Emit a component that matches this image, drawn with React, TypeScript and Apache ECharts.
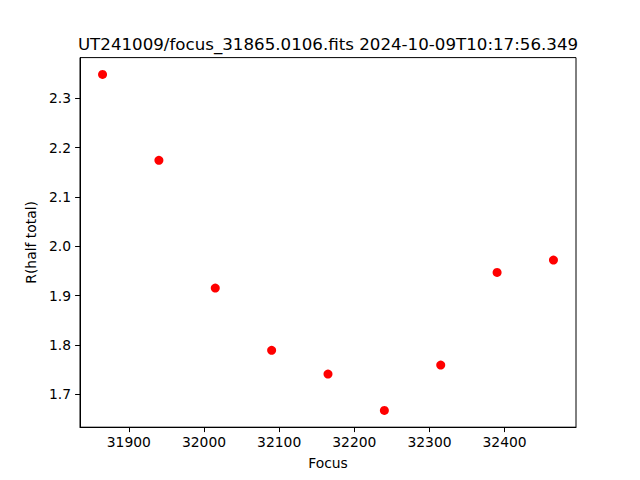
import React, { useEffect, useRef } from "react";
import * as echarts from "echarts";

const titleText = "UT241009/focus_31865.0106.fits 2024-10-09T10:17:56.349";
const focusValues = [31865, 31940, 32015, 32090, 32165, 32240, 32315, 32390, 32465];
const radiusValues = [2.3485, 2.1742, 1.9152, 1.7889, 1.7408, 1.6671, 1.759, 1.947, 1.972];
const xTicks = [31900, 32000, 32100, 32200, 32300, 32400];
const yTicks = [1.7, 1.8, 1.9, 2.0, 2.1, 2.2, 2.3];

const FONT = "DejaVu Sans";
const FS = 13.89;

export default function App() {
  const ref = useRef<HTMLDivElement>(null);
  useEffect(() => {
    if (!ref.current) return;
    const chart = echarts.init(ref.current, null, { renderer: "svg" });
    const xMinD = Math.min(...focusValues);
    const xMaxD = Math.max(...focusValues);
    const yMinD = Math.min(...radiusValues);
    const yMaxD = Math.max(...radiusValues);
    const xm = (xMaxD - xMinD) * 0.05;
    const ym = (yMaxD - yMinD) * 0.05;
    chart.setOption({
      animation: false,
      backgroundColor: "#ffffff",
      graphic: [
        {
          type: "text",
          x: 328,
          y: 44,
          style: {
            text: titleText,
            font: `16.67px "${FONT}"`,
            fill: "#000",
            align: "center",
            verticalAlign: "middle",
          },
        },
      ],
      grid: {
        left: 80,
        right: 64,
        top: 57.6,
        bottom: 52.8,
        show: true,
        borderColor: "#000",
        borderWidth: 1,
        backgroundColor: "transparent",
      },
      xAxis: {
        type: "value",
        min: xMinD - xm,
        max: xMaxD + xm,
        name: "Focus",
        nameLocation: "middle",
        nameGap: 29,
        nameTextStyle: { fontFamily: FONT, fontSize: FS, color: "#000" },
        splitLine: { show: false },
        axisLine: { show: true, lineStyle: { color: "#000", width: 1 } },
        axisTick: {
          show: true,
          inside: false,
          length: 4.9,
          lineStyle: { color: "#000", width: 1 },
          customValues: xTicks,
        },
        axisLabel: {
          fontFamily: FONT,
          fontSize: FS,
          color: "#000",
          margin: 8,
          customValues: xTicks,
          formatter: (v: number) => String(v),
        },
      },
      yAxis: {
        type: "value",
        min: yMinD - ym,
        max: yMaxD + ym,
        name: "R(half total)",
        nameLocation: "middle",
        nameGap: 40,
        nameTextStyle: { fontFamily: FONT, fontSize: FS, color: "#000" },
        splitLine: { show: false },
        axisLine: { show: true, lineStyle: { color: "#000", width: 1 } },
        axisTick: {
          show: true,
          inside: false,
          length: 4.9,
          lineStyle: { color: "#000", width: 1 },
          customValues: yTicks,
        },
        axisLabel: {
          fontFamily: FONT,
          fontSize: FS,
          color: "#000",
          margin: 9,
          customValues: yTicks,
          formatter: (v: number) => v.toFixed(1),
        },
      },
      series: [
        {
          type: "scatter",
          data: focusValues.map((f, i) => [f, radiusValues[i]]),
          symbol: "circle",
          symbolSize: 9,
          itemStyle: { color: "#ff0000", opacity: 1 },
        },
      ],
    });
    return () => chart.dispose();
  }, []);
  return (
    <div
      ref={ref}
      style={{ position: "absolute", left: 0, top: 0, width: 640, height: 480 }}
    />
  );
}
